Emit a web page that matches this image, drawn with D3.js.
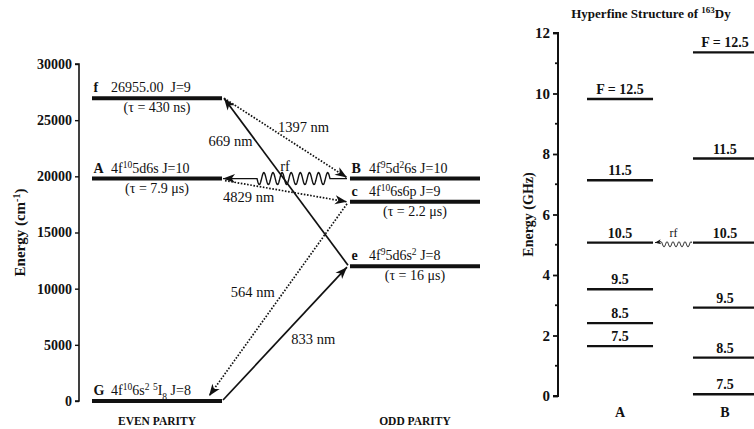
<!DOCTYPE html>
<html><head><meta charset="utf-8">
<script src="https://cdn.jsdelivr.net/npm/d3@7"></script>
<style>
body{margin:0;background:#fff}
svg{display:block}
text{font-family:"Liberation Serif","Times New Roman",serif;fill:#111}
</style>
</head><body>
<svg id="chart" width="754" height="429"></svg>
<script>
// ---------------- DATA ----------------
const energyTicks = [0, 5000, 10000, 15000, 20000, 25000, 30000];
const parities = ["EVEN PARITY", "ODD PARITY"];
const levelIds = ["f", "A", "G", "B", "c", "e"];
const levelEnergy = [26955, 19798, 0, 19798, 17727, 12005];
const levelParity = ["EVEN PARITY", "EVEN PARITY", "EVEN PARITY", "ODD PARITY", "ODD PARITY", "ODD PARITY"];
const levelConfig = ["26955.00  J=9", "4f^{10}5d6s J=10", "4f^{10}6s^{2} ^{5}I_{8} J=8", "4f^{9}5d^{2}6s J=10", "4f^{10}6s6p J=9", "4f^{9}5d6s^{2} J=8"];
const levelLifetime = ["(τ = 430 ns)", "(τ = 7.9 μs)", "", "", "(τ = 2.2 μs)", "(τ = 16 μs)"];

const transFrom = ["e", "f", "B", "A", "c", "G"];
const transTo = ["f", "B", "A", "c", "G", "e"];
const transLabel = ["669 nm", "1397 nm", "rf", "4829 nm", "564 nm", "833 nm"];
const transType = ["solid", "dotted", "wiggle", "dotted", "dotted", "solid"];

const hfTitle = "Hyperfine Structure of ";
const hfColumns = ["A", "B"];
const hfF = [7.5, 8.5, 9.5, 10.5, 11.5, 12.5];
const hfA = [1.65, 2.41, 3.53, 5.07, 7.13, 9.82];
const hfB = [0.06, 1.27, 2.92, 5.07, 7.85, 11.36];
const ghzTicks = [0, 2, 4, 6, 8, 10, 12];
const ghzMinor = [1, 3, 5, 7, 9, 11];

// ---------------- LAYOUT ----------------
const svg = d3.select("#chart");
const defs = svg.append("defs");
function marker(id, len, wid) {
  defs.append("marker").attr("id", id)
    .attr("markerUnits", "userSpaceOnUse")
    .attr("viewBox", `${-len - 1} ${-wid - 1} ${len + 2} ${2 * wid + 2}`)
    .attr("refX", 0).attr("refY", 0)
    .attr("markerWidth", len + 2).attr("markerHeight", 2 * wid + 2)
    .attr("orient", "auto")
    .append("path")
    .attr("d", `M0,0 L${-len},${-wid} L${-len * 0.72},0 L${-len},${wid} Z`)
    .attr("fill", "#111");
}
marker("ah", 12, 4.5);
marker("ahs", 6, 2.5);

function richText(sel, str, baseSize) {
  const parts = str.split(/(\^\{[^}]*\}|_\{[^}]*\})/).filter(s => s.length);
  parts.forEach(p => {
    if (p.startsWith("^{")) {
      sel.append("tspan").attr("baseline-shift", "super").attr("font-size", baseSize * 0.68).text(p.slice(2, -1));
    } else if (p.startsWith("_{")) {
      sel.append("tspan").attr("baseline-shift", "sub").attr("font-size", baseSize * 0.68).text(p.slice(2, -1));
    } else {
      sel.append("tspan").text(p);
    }
  });
}

// ---- Left panel ----
const yE = d3.scaleLinear().domain([0, 30000]).range([401, 64]);
const xP = d3.scaleBand().domain(parities).range([92, 480]).paddingInner(0.496).paddingOuter(0);
const bw = xP.bandwidth();

const gAxL = svg.append("g").attr("transform", "translate(79,0)")
  .call(d3.axisLeft(yE).tickValues(energyTicks).tickSize(4).tickPadding(3).tickFormat(d3.format("d")));
gAxL.select(".domain").attr("stroke", "#111").attr("stroke-width", 1.6).attr("d", `M-4,${yE(30000)}H0V${yE(0)}H-4`);
gAxL.selectAll(".tick line").attr("stroke", "#111").attr("stroke-width", 1.4);
gAxL.selectAll(".tick text").attr("font-family", "Liberation Serif").attr("font-weight", "bold").attr("font-size", 14).attr("fill", "#111");

const yl = svg.append("text").attr("transform", `translate(25,${(yE(0) + yE(30000)) / 2}) rotate(-90)`)
  .attr("text-anchor", "middle").attr("font-weight", "bold").attr("font-size", 15);
yl.append("tspan").text("Energy (cm");
yl.append("tspan").attr("baseline-shift", "super").attr("font-size", 10).text("-1");
yl.append("tspan").text(")");

const levels = levelIds.map((id, i) => ({ id, E: levelEnergy[i], p: levelParity[i], cfg: levelConfig[i], tau: levelLifetime[i] }));
const lv = Object.fromEntries(levels.map(d => [d.id, d]));

svg.append("g").selectAll("line").data(levels).join("line")
  .attr("x1", d => xP(d.p)).attr("x2", d => xP(d.p) + bw)
  .attr("y1", d => yE(d.E)).attr("y2", d => yE(d.E))
  .attr("stroke", "#111").attr("stroke-width", 4);

levels.forEach(d => {
  const x0 = xP(d.p), y = yE(d.E);
  svg.append("text").attr("x", x0 + 1.5).attr("y", y - 6).attr("font-weight", "bold").attr("font-size", 14).text(d.id);
  const t = svg.append("text").attr("x", x0 + 19).attr("y", y - 6).attr("font-size", 14).style("white-space", "pre");
  richText(t, d.cfg, 14);
  if (d.tau) svg.append("text").attr("x", x0 + bw / 2).attr("y", y + 14).attr("text-anchor", "middle").attr("font-size", 14).text(d.tau);
});

parities.forEach(p => {
  svg.append("text").attr("x", xP(p) + bw / 2).attr("y", 425).attr("text-anchor", "middle")
    .attr("font-weight", "bold").attr("font-size", 11.5).text(p);
});

// transitions
const endAdj = { // pixel nudges of arrow ends [startDx, startDy, endDx, endDy]
  "669 nm": [-2, -1, 2, 0], "1397 nm": [2, 0, -3, -1], "rf": [-3, 0, 1, 0],
  "4829 nm": [3, 2, -3, 0], "564 nm": [-3, 2, -13, -5], "833 nm": [1, -1, -3, 1]
};
const labelPos = { // t along arrow, dx, dy, anchor
  "669 nm": [0.73, -5, 3, "end"], "1397 nm": [0.43, 1, 0, "start"], "rf": [0.5, 0, -8, "middle"],
  "4829 nm": [0, -2, 21, "start"], "564 nm": [0.466, -8, 4, "end"], "833 nm": [0.4545, 12, 4, "start"]
};
function edgeX(l, other) {
  return xP(l.p) + (xP(l.p) < xP(other.p) ? bw : 0);
}
transFrom.forEach((f, i) => {
  const a = lv[f], b = lv[transTo[i]], adj = endAdj[transLabel[i]];
  const x1 = edgeX(a, b) + adj[0], y1 = yE(a.E) + adj[1];
  const x2 = edgeX(b, a) + adj[2], y2 = yE(b.E) + adj[3];
  if (transType[i] === "wiggle") {
    const wStart = x1 - 17, wEnd = x2 + 34, amp = 6, cycles = 8;
    const pts = [[x1, y1], [wStart, y1]];
    const n = 200;
    for (let k = 0; k <= n; k++) {
      const x = wStart + (wEnd - wStart) * k / n;
      pts.push([x, y1 - amp * Math.sin(2 * Math.PI * cycles * k / n)]);
    }
    pts.push([x2, y2]);
    svg.append("path").attr("d", d3.line()(pts)).attr("fill", "none").attr("stroke", "#111")
      .attr("stroke-width", 1.4).attr("marker-end", "url(#ah)");
  } else {
    svg.append("line").attr("x1", x1).attr("y1", y1).attr("x2", x2).attr("y2", y2)
      .attr("stroke", "#111").attr("stroke-width", 1.7)
      .attr("stroke-dasharray", transType[i] === "dotted" ? "1.6 1.6" : null)
      .attr("marker-end", "url(#ah)");
  }
  const lp = labelPos[transLabel[i]];
  svg.append("text").attr("x", x1 + (x2 - x1) * lp[0] + lp[1]).attr("y", y1 + (y2 - y1) * lp[0] + lp[2])
    .attr("text-anchor", lp[3]).attr("font-size", 14.5).text(transLabel[i]);
});

// ---- Right panel ----
const yG = d3.scaleLinear().domain([0, 12]).range([396, 33]);
const xC = d3.scaleBand().domain(hfColumns).range([587, 759]).paddingInner(0.377).paddingOuter(0);
const cw = xC.bandwidth();

const gAxR = svg.append("g").attr("transform", "translate(558,0)")
  .call(d3.axisLeft(yG).tickValues(ghzTicks).tickSize(5).tickPadding(3).tickFormat(d3.format("d")));
gAxR.select(".domain").attr("stroke", "#111").attr("stroke-width", 2).attr("d", `M-5,${yG(12)}H0V${yG(0)}H-5`);
gAxR.selectAll(".tick line").attr("stroke", "#111").attr("stroke-width", 1.8);
gAxR.selectAll(".tick text").attr("font-family", "Liberation Serif").attr("font-weight", "bold").attr("font-size", 15).attr("fill", "#111");
gAxR.selectAll(".minor").data(ghzMinor).join("line").attr("class", "minor")
  .attr("x1", -3).attr("x2", 0).attr("y1", d => yG(d)).attr("y2", d => yG(d))
  .attr("stroke", "#111").attr("stroke-width", 1.8);

svg.append("text").attr("transform", `translate(533,${(yG(0) + yG(12)) / 2}) rotate(-90)`)
  .attr("text-anchor", "middle").attr("font-weight", "bold").attr("font-size", 14).text("Energy (GHz)");

const tt = svg.append("text").attr("x", 651).attr("y", 18).attr("text-anchor", "middle")
  .attr("font-weight", "bold").attr("font-size", 13);
tt.append("tspan").text(hfTitle);
tt.append("tspan").attr("baseline-shift", "super").attr("font-size", 9).text("163");
tt.append("tspan").text("Dy");

const hf = [];
hfF.forEach((F, i) => { hf.push({ col: "A", F, v: hfA[i] }); hf.push({ col: "B", F, v: hfB[i] }); });
svg.append("g").selectAll("line").data(hf).join("line")
  .attr("x1", d => xC(d.col)).attr("x2", d => xC(d.col) + cw)
  .attr("y1", d => yG(d.v)).attr("y2", d => yG(d.v))
  .attr("stroke", "#111").attr("stroke-width", 2.4);
svg.append("g").selectAll("text").data(hf).join("text")
  .attr("x", d => xC(d.col) + cw / 2 + (d.col === "B" ? -1 : 0)).attr("y", d => yG(d.v) - 5)
  .attr("text-anchor", "middle").attr("font-weight", "bold").attr("font-size", 14)
  .text(d => (d.F === 12.5 ? "F = " : "") + d.F);
hfColumns.forEach(c => {
  svg.append("text").attr("x", xC(c) + cw / 2 - (c === "B" ? 1 : 0)).attr("y", 417).attr("text-anchor", "middle")
    .attr("font-weight", "bold").attr("font-size", 14).text(c);
});

// rf between the F=10.5 sublevels
{
  const i = hfF.indexOf(10.5);
  const y = yG(hfA[i]);
  const x1 = xC("B") - 1, x2 = xC("A") + cw + 2;
  const wS = x1 - 1, wE = x2 + 6, amp = 2.6, cycles = 5;
  const pts = [[x1, y]];
  for (let k = 0; k <= 100; k++) {
    const x = wS + (wE - wS) * k / 100;
    pts.push([x, y + 2 - 2 * Math.cos(2 * Math.PI * cycles * k / 100) * (amp / 2) - amp / 2 + 1]);
  }
  pts.push([x2, y]);
  svg.append("path").attr("d", d3.line()(pts)).attr("fill", "none").attr("stroke", "#111")
    .attr("stroke-width", 1).attr("marker-end", "url(#ahs)");
  svg.append("text").attr("x", (x1 + x2) / 2).attr("y", y - 6).attr("text-anchor", "middle")
    .attr("font-size", 12).text("rf");
}
</script>
</body></html>
